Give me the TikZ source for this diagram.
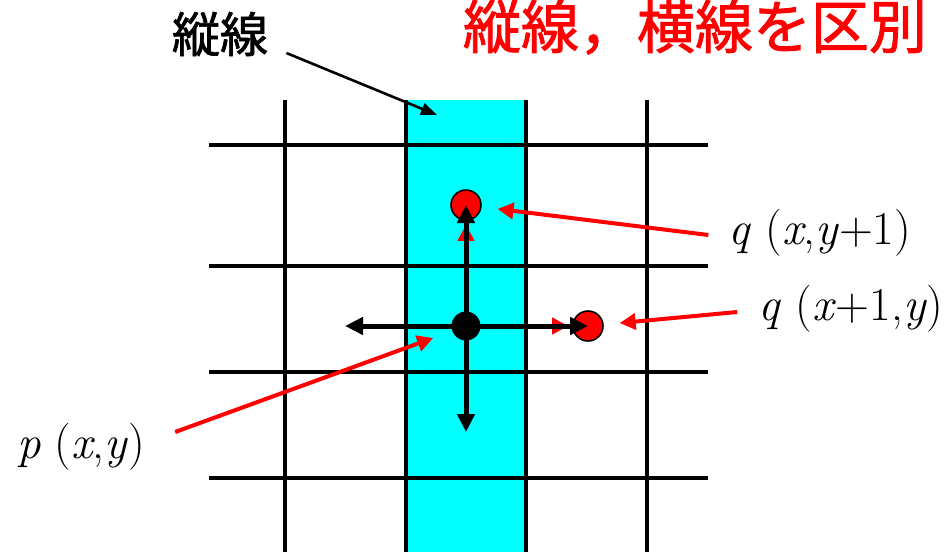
\documentclass[tikz,border=0pt]{standalone}
\usepackage{fontspec}
\newfontfamily\jpfont[FakeBold=1.5]{Noto Sans CJK JP}
\usetikzlibrary{positioning, arrows.meta}
\definecolor{bandcyan}{RGB}{0,255,255}

\begin{document}
\begin{tikzpicture}[
        x=0.5pt, y=-0.5pt,
        gridline/.style={line width=2.4pt, black},
        band/.style={fill=bandcyan, draw=none},
        pdot/.style={circle, fill=black, inner sep=0pt, minimum size=14.5pt},
        qdot/.style={circle, fill=red, draw=black, line width=0.8pt, inner sep=0pt, minimum size=15pt},
        lbl/.style={font=\rmfamily\fontsize{23.5}{28}\selectfont, inner sep=0pt},
        jplbl/.style={font=\jpfont\fontsize{24}{28}\selectfont, inner sep=0pt},
        redarr/.style={-{Triangle[length=8pt, width=8pt]}, line width=2pt, red},
        blkarr/.style={-{Triangle[length=9pt, width=8.5pt]}, line width=2.5pt, black},
        tagarr/.style={-{Triangle[length=8pt, width=6pt]}, line width=1.3pt, black},
    ]
        \useasboundingbox (0,0) rectangle (947,552);

        % highlighted column and grid
        \fill[band] (406,100) rectangle (526,552);
        \foreach \gx in {285,406,526,647}
            \draw[gridline] (\gx,100) -- (\gx,552);
        \foreach \gy in {145,266,372,478}
            \draw[gridline] (209,\gy) -- (708,\gy);

        % pixels
        \node[pdot] (p) at (466,326) {};
        \node[qdot] (qup) at (466,205) {};
        \node[qdot] (qright) at (588,326) {};
        \coordinate (left) at (345,326);
        \coordinate (down) at (466,432);

        \draw[redarr, shorten >=2pt] (p) -- (qup);
        \draw[redarr, shorten >=2pt] (p) -- (qright);
        \draw[blkarr] (p.center) -- (qup.center);
        \draw[blkarr] (p.center) -- (qright.center);
        \draw[blkarr] (p.center) -- (left);
        \draw[blkarr] (p.center) -- (down);

        % labels
        \node[jplbl, red, font=\jpfont\fontsize{29}{34}\selectfont] (title) at (695,27) {縦線，横線を区別};
        \node[jplbl] (tate) at (220,34) {縦線};
        \coordinate (bandtop) at (437,115);
        \node[lbl] (qupl) at (820,233) {\textit{q} (\textit{x},\textit{y}+1)};
        \node[lbl] (qrightl) at (851,309) {\textit{q} (\textit{x}+1,\textit{y})};
        \node[lbl] (pl) at (81,447) {\textit{p} (\textit{x},\textit{y})};

        \draw[tagarr] ([shift={(18,19)}]tate.east) -- (bandtop);
        \draw[redarr, shorten >=8pt] ([shift={(-20,2)}]qupl.west) -- (qup);
        \draw[redarr, shorten >=8pt] ([shift={(-21,3)}]qrightl.west) -- (qright);
        \draw[redarr, shorten >=10pt] ([shift={(30,-15)}]pl.east) -- (p);
    \end{tikzpicture}
\end{document}
